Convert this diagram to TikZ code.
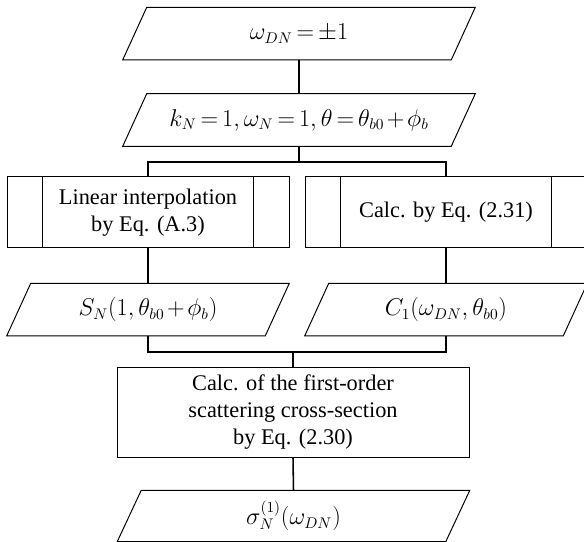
\documentclass[tikz,border=0pt]{standalone}
\usepackage{fontspec}
\setmainfont{Liberation Serif}
\usepackage{tikz}
\usetikzlibrary{shapes.geometric, positioning}

\newcommand{\boxfont}{\fontsize{15.9}{19.5}\selectfont\thickmuskip=3mu\medmuskip=2mu}

\tikzset{
    iobox/.style={rectangle, minimum width=8.2cm, minimum height=1.3cm, font=\boxfont},
    subbox/.style={rectangle, draw, line width=0.7pt, minimum width=7.05cm,
        minimum height=1.775cm, align=center, font=\boxfont},
    procbox/.style={rectangle, draw, line width=0.7pt, minimum width=8.8cm,
        minimum height=2.25cm, align=center, font=\boxfont},
    link/.style={line width=1.1pt}
}

\begin{document}
\begin{tikzpicture}
    \useasboundingbox (0,0) rectangle (14.6,-13.55);

    % Inputs
    \node[iobox] (omega) at (7.475,-0.84) {$\omega_{DN}=\pm1$};
    \node[iobox] (params) at (7.475,-3.0) {$k_N=1,\omega_N=1,\theta=\theta_{b0}+\phi_b$};

    % Sub-processes
    \node[subbox] (interp) at (3.7,-5.31) {Linear interpolation\\by Eq. (A.3)};
    \node[subbox] (calc) at (11.15,-5.31) {Calc. by Eq. (2.31)};
    \foreach \n in {interp, calc} {
        \draw[line width=0.7pt] ([xshift=0.9cm]\n.north west) -- ([xshift=0.9cm]\n.south west);
        \draw[line width=0.7pt] ([xshift=-0.9cm]\n.north east) -- ([xshift=-0.9cm]\n.south east);
    }

    % Intermediate results
    \node[iobox, minimum width=6.45cm] (sn) at (3.7,-7.74) {$S_N(1,\theta_{b0}+\phi_b)$};
    \node[iobox, minimum width=6.45cm] (cone) at (11.15,-7.74) {$C_1(\omega_{DN},\theta_{b0})$};

    % Cross-section
    \node[procbox] (cross) at (7.325,-10.3) {Calc. of the first-order\\scattering cross-section\\by Eq. (2.30)};
    \node[iobox, minimum height=1.27cm] (sigma) at (7.3375,-12.9) {$\sigma_N^{(1)}(\omega_{DN})$};

    % Data boxes (slanted outlines)
    \foreach \n in {omega, params, sn, cone, sigma} {
        \draw[line width=0.7pt] ([xshift=-0.3cm]\n.south west) -- ([xshift=-0.3cm]\n.south east)
            -- ([xshift=0.3cm]\n.north east) -- ([xshift=0.3cm]\n.north west) -- cycle;
    }

    % Connectors
    \coordinate (split) at (7.475,-4.05);
    \coordinate (merge) at (7.325,-8.8);
    \draw[link] (omega.south) -- (params.north);
    \draw[link] (params.south) -- (split);
    \draw[link] (interp.north) |- (split) -| (calc.north);
    \draw[link] (interp.south) -- (sn.north);
    \draw[link] (calc.south) -- (cone.north);
    \draw[link] (sn.south) |- (merge) -| (cone.south);
    \draw[link] (merge) -- (cross.north);
    \draw[link] (cross.south) -- (sigma.north);
\end{tikzpicture}
\end{document}
